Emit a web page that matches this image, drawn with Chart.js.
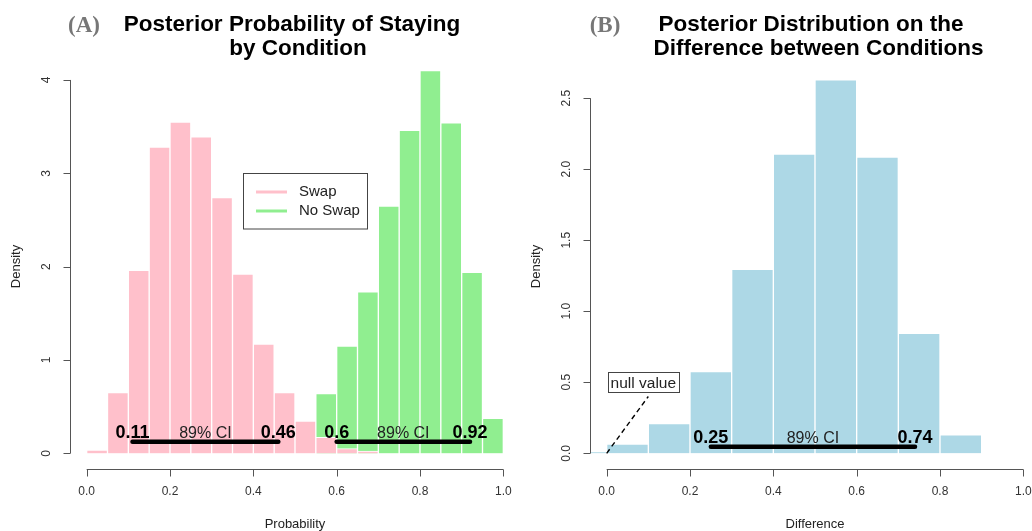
<!DOCTYPE html>
<html>
<head>
<meta charset="utf-8">
<script src="https://cdn.jsdelivr.net/npm/chart.js@4.4.1/dist/chart.umd.min.js"></script>
<style>
  html,body{margin:0;padding:0;background:#fff;}
  #wrap{position:relative;width:1032px;height:531px;overflow:hidden;background:#fff;}
  canvas{position:absolute;left:0;top:0;}
</style>
</head>
<body>
<div id="wrap">
  <canvas id="c1" width="1032" height="531" style="width:1032px;height:531px"></canvas>
  <canvas id="c2" width="1100" height="531" style="width:1100px;height:531px"></canvas>
</div>
<script>
// ---------- DATA ----------
// Panel A: histogram bin centres (bin width 0.05) and densities
const swapBins     = [0.025,0.075,0.125,0.175,0.225,0.275,0.325,0.375,0.425,0.475,0.525,0.575,0.625,0.675];
const swapDensity  = [0.035,0.65,1.96,3.28,3.55,3.39,2.74,1.92,1.17,0.65,0.345,0.17,0.05,0.025];
const noSwapBins    = [0.575,0.625,0.675,0.725,0.775,0.825,0.875,0.925,0.975];
const noSwapDensity = [0.64,1.15,1.73,2.65,3.46,4.10,3.54,1.94,0.375];
// Panel B: histogram bin centres (bin width 0.1) and densities
const diffBins    = [-0.05,0.05,0.15,0.25,0.35,0.45,0.55,0.65,0.75,0.85];
const diffDensity = [0.01,0.065,0.21,0.575,1.295,2.107,2.63,2.085,0.845,0.13];
// 89% credible intervals
const ciSwap   = [0.11, 0.46];
const ciNoSwap = [0.6, 0.92];
const ciDiff   = [0.25, 0.74];
const nullValue = 0;
// Tick values / labels
const probTicks   = [0,0.2,0.4,0.6,0.8,1.0];
const probLabels  = ['0.0','0.2','0.4','0.6','0.8','1.0'];
const densATicks  = [0,1,2,3,4];
const densALabels = ['0','1','2','3','4'];
const densBTicks  = [0,0.5,1.0,1.5,2.0,2.5];
const densBLabels = ['0.0','0.5','1.0','1.5','2.0','2.5'];

// ---------- STYLE ----------
const FONT = '"Liberation Sans", Arial, Helvetica, sans-serif';
const SERIF = '"Liberation Serif", "Times New Roman", serif';
const PINK = '#FFC0CB', GREEN = '#90EE90', BLUE = '#ADD8E6';
const CI_Y_A = 0.124, CI_Y_B = 0.046;   // heights of the CI bars in data units
const NULL_TOP = [0.1, 0.4];           // end of the null-value pointer

function pts(xs, ys){ return xs.map((x,i)=>({x:x, y:ys[i]})); }
function ciPts(ci, yv){ return [{x:ci[0],y:yv},{x:ci[1],y:yv}]; }

function drawAxes(chart, spec){
  const ctx = chart.ctx, a = chart.chartArea, xs = chart.scales.x, ys = chart.scales.y;
  ctx.save();
  ctx.strokeStyle = '#555'; ctx.lineWidth = 1; ctx.fillStyle = '#333';
  // x axis
  const yb = Math.round(a.bottom) + 0.5;
  ctx.beginPath();
  ctx.moveTo(xs.getPixelForValue(spec.xTicks[0]), yb);
  ctx.lineTo(xs.getPixelForValue(spec.xTicks[spec.xTicks.length-1]), yb);
  spec.xTicks.forEach(v=>{ const p = Math.round(xs.getPixelForValue(v))+0.5; ctx.moveTo(p,yb); ctx.lineTo(p,yb+7); });
  // y axis
  const xl = Math.round(a.left) + 0.5;
  ctx.moveTo(xl, ys.getPixelForValue(spec.yTicks[0]));
  ctx.lineTo(xl, ys.getPixelForValue(spec.yTicks[spec.yTicks.length-1]));
  spec.yTicks.forEach(v=>{ const p = Math.round(ys.getPixelForValue(v))+0.5; ctx.moveTo(xl,p); ctx.lineTo(xl-7,p); });
  ctx.stroke();
  ctx.font = '12px ' + FONT;
  ctx.textAlign = 'center'; ctx.textBaseline = 'middle';
  spec.xTicks.forEach((v,i)=> ctx.fillText(spec.xLabels[i], xs.getPixelForValue(v), a.bottom + 23));
  spec.yTicks.forEach((v,i)=>{
    ctx.save(); ctx.translate(a.left - 23.5, ys.getPixelForValue(v)); ctx.rotate(-Math.PI/2);
    ctx.fillText(spec.yLabels[i], 0, 0); ctx.restore();
  });
  ctx.fillStyle = '#222';
  ctx.font = '13px ' + FONT;
  ctx.fillText(spec.xTitle, (a.left + a.right)/2, 524);
  ctx.save(); ctx.translate(a.left - 53.5, 266.5); ctx.rotate(-Math.PI/2);
  ctx.fillText(spec.yTitle, 0, 0); ctx.restore();
  // panel title
  ctx.textBaseline = 'alphabetic';
  ctx.fillStyle = '#777';
  ctx.font = 'bold 23px ' + SERIF;
  ctx.fillText(spec.tag, spec.tagX, 31.5);
  ctx.fillStyle = '#000';
  ctx.font = 'bold 22.5px ' + FONT;
  ctx.fillText(spec.title[0], spec.titleX[0], 31);
  ctx.fillText(spec.title[1], spec.titleX[1], 55);
  ctx.restore();
}

function drawCI(chart, ci, yv){
  const ctx = chart.ctx, xs = chart.scales.x, ys = chart.scales.y;
  const py = ys.getPixelForValue(yv) - 4;
  ctx.save();
  ctx.fillStyle = '#000'; ctx.textAlign = 'center'; ctx.textBaseline = 'alphabetic';
  ctx.font = 'bold 18px ' + FONT;
  ctx.fillText(String(ci[0]), xs.getPixelForValue(ci[0]), py);
  ctx.fillText(String(ci[1]), xs.getPixelForValue(ci[1]), py);
  ctx.fillStyle = '#222';
  ctx.font = '16px ' + FONT;
  ctx.fillText('89% CI', xs.getPixelForValue((ci[0]+ci[1])/2), py);
  ctx.restore();
}

// ---------- PANEL A ----------
const chartA = new Chart(document.getElementById('c1'), {
  type: 'bar',
  data: {
    datasets: [
      { label:'Swap', data: pts(swapBins, swapDensity), backgroundColor: PINK, borderColor:'#fff',
        borderWidth: 1, grouped:false, barPercentage:1, categoryPercentage:1, order:2 },
      { label:'No Swap', data: pts(noSwapBins, noSwapDensity), backgroundColor: GREEN, borderColor:'#fff',
        borderWidth: 1, grouped:false, barPercentage:1, categoryPercentage:1, order:3 },
      { type:'line', label:'CI Swap', data: ciPts(ciSwap, CI_Y_A), borderColor:'#000', borderWidth:4.5,
        borderCapStyle:'round', pointRadius:0, order:1 },
      { type:'line', label:'CI No Swap', data: ciPts(ciNoSwap, CI_Y_A), borderColor:'#000', borderWidth:4.5,
        borderCapStyle:'round', pointRadius:0, order:1 }
    ]
  },
  options: {
    responsive:false, animation:false, events:[], devicePixelRatio:1,
    layout:{ padding:{ left:70, right:512, top:55.5, bottom:62 } },
    scales:{
      x:{ type:'linear', min:-0.04, max:1.04, offset:false, display:false },
      y:{ type:'linear', min:-0.168, max:4.262, display:false }
    },
    plugins:{ legend:{display:false}, tooltip:{enabled:false} }
  },
  plugins:[{
    id:'rA',
    afterDraw(chart){
      drawAxes(chart, { xTicks:probTicks, xLabels:probLabels, yTicks:densATicks, yLabels:densALabels,
        xTitle:'Probability', yTitle:'Density', tag:'(A)', tagX:84,
        title:['Posterior Probability of Staying','by Condition'], titleX:[292,298] });
      drawCI(chart, ciSwap, CI_Y_A);
      drawCI(chart, ciNoSwap, CI_Y_A);
      // legend
      const ctx = chart.ctx;
      ctx.save();
      ctx.strokeStyle = '#444'; ctx.lineWidth = 1;
      ctx.strokeRect(243.5, 173.5, 124, 55.5);
      const items = chart.data.datasets.slice(0,2);
      items.forEach((d,i)=>{
        const yy = 192 + i*19;
        ctx.strokeStyle = d.backgroundColor; ctx.lineWidth = 3;
        ctx.beginPath(); ctx.moveTo(256, yy); ctx.lineTo(287, yy); ctx.stroke();
        ctx.fillStyle = '#222'; ctx.font = '15px ' + FONT; ctx.textAlign='left'; ctx.textBaseline='middle';
        ctx.fillText(d.label, 299, yy);
      });
      ctx.restore();
    }
  }]
});

// ---------- PANEL B ----------
const chartB = new Chart(document.getElementById('c2'), {
  type: 'bar',
  data: {
    datasets: [
      { label:'Difference', data: pts(diffBins, diffDensity), backgroundColor: BLUE, borderColor:'#fff',
        borderWidth: 1, grouped:false, barPercentage:1, categoryPercentage:1, order:3 },
      { type:'line', label:'CI', data: ciPts(ciDiff, CI_Y_B), borderColor:'#000', borderWidth:4.5,
        borderCapStyle:'round', pointRadius:0, order:1 },
      { type:'line', label:'null value', data: [{x:nullValue,y:0},{x:NULL_TOP[0],y:NULL_TOP[1]}],
        borderColor:'#000', borderWidth:1.4, borderDash:[5,3.5], pointRadius:0, order:1 }
    ]
  },
  options: {
    responsive:false, animation:false, events:[], devicePixelRatio:1,
    layout:{ padding:{ left:590, right:60, top:55.5, bottom:62 } },
    scales:{
      x:{ type:'linear', min:-0.04, max:1.04, offset:false, display:false },
      y:{ type:'linear', min:-0.1106, max:2.801, display:false }
    },
    plugins:{ legend:{display:false}, tooltip:{enabled:false} }
  },
  plugins:[{
    id:'rB',
    afterDraw(chart){
      drawAxes(chart, { xTicks:probTicks, xLabels:probLabels, yTicks:densBTicks, yLabels:densBLabels,
        xTitle:'Difference', yTitle:'Density', tag:'(B)', tagX:605,
        title:['Posterior Distribution on the','Difference between Conditions'], titleX:[811,818.5] });
      drawCI(chart, ciDiff, CI_Y_B);
      // null value label box
      const ctx = chart.ctx, xs = chart.scales.x, ys = chart.scales.y;
      const tx = xs.getPixelForValue(NULL_TOP[0]) - 5, ty = ys.getPixelForValue(NULL_TOP[1]) - 14;
      ctx.save();
      ctx.font = '15.5px ' + FONT;
      const w = ctx.measureText('null value').width + 6;
      ctx.fillStyle = '#fff';
      ctx.fillRect(tx - w/2, ty - 10, w, 20);
      ctx.strokeStyle = '#444'; ctx.lineWidth = 1;
      ctx.strokeRect(Math.round(tx - w/2)+0.5, Math.round(ty - 10)+0.5, Math.round(w), 20);
      ctx.fillStyle = '#222'; ctx.textAlign = 'center'; ctx.textBaseline = 'middle';
      ctx.fillText('null value', tx, ty + 1);
      ctx.restore();
    }
  }]
});
</script>
</body>
</html>
